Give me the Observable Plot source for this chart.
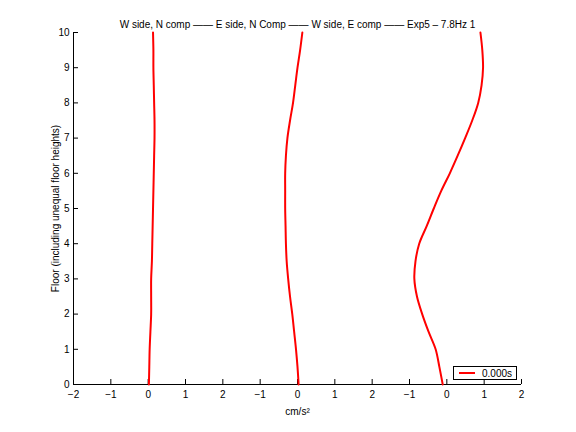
<!DOCTYPE html>
<html><head><meta charset="utf-8">
<script src="https://cdn.jsdelivr.net/npm/d3@7"></script>
<script src="https://cdn.jsdelivr.net/npm/@observablehq/plot@0.6"></script>
<style>
body{margin:0;background:#fff;}
#wrap{position:relative;width:576px;height:432px;font-family:"Liberation Sans",Arial,sans-serif;}
#legend{position:absolute;left:453px;top:366px;width:62px;height:12px;border:1px solid #000;background:#fff;font-size:10px;display:flex;align-items:center;}
#legend .sw{display:inline-block;width:16px;height:2px;background:#ff0000;margin-left:5px;margin-right:7px;}
</style></head><body><div id="wrap"></div>
<script>
const titleText = "W side, N comp —— E side, N Comp —— W side, E comp —— Exp5 – 7.8Hz 1";
const xLabel = "cm/s²";
const yLabel = "Floor (including unequal floor heights)";
const legendLabel = "0.000s";

const floors = [0,0.5,1,1.5,2,2.5,3,3.5,4,4.5,5,5.5,6,6.5,7,7.5,8,8.5,9,9.5,10];
const seriesNames = ["W side, N comp","E side, N Comp","W side, E comp"];
const wSideN = [0.02,0.03,0.04,0.06,0.08,0.08,0.08,0.10,0.11,0.12,0.13,0.14,0.15,0.16,0.17,0.17,0.16,0.15,0.14,0.14,0.13];
const eSideN = [0.03,0.00,-0.04,-0.09,-0.14,-0.20,-0.25,-0.29,-0.31,-0.32,-0.33,-0.33,-0.33,-0.31,-0.27,-0.20,-0.12,-0.06,0.00,0.07,0.13];
const wSideE = [-0.11,-0.20,-0.30,-0.49,-0.66,-0.80,-0.87,-0.84,-0.74,-0.54,-0.35,-0.15,0.08,0.29,0.49,0.68,0.84,0.93,0.97,0.95,0.90];
const seriesValues = [wSideN, eSideN, wSideE];
const seriesOffsets = [0,4,8];

const xTickValues = [-2,-1,0,1,2,3,4,5,6,7,8,9,10];
const xTickLabels = ["−2","−1","0","1","2","−1","0","1","2","−1","0","1","2"];
const yTicks = [0,1,2,3,4,5,6,7,8,9,10];

const data = [];
seriesNames.forEach((name,i)=>{
  floors.forEach((f,j)=>data.push({series:name, floor:f, value:seriesValues[i][j], offset:seriesOffsets[i]}));
});

const font = "'Liberation Sans', Arial, sans-serif";
const chart = Plot.plot({
  width:576, height:432, marginLeft:73, marginRight:55, marginTop:32, marginBottom:48,
  style:{fontFamily:font, fontSize:"10px", background:"white", color:"black", overflow:"visible"},
  x:{domain:[-2,10]}, y:{domain:[0,10]},
  marks:[
    Plot.axisX({ticks:xTickValues, tickFormat:d=>xTickLabels[xTickValues.indexOf(d)], tickSize:-5, tickPadding:11, label:xLabel, labelAnchor:"center", labelArrow:"none", labelOffset:30}),
    Plot.axisY({ticks:yTicks, tickSize:-5, tickPadding:9, label:yLabel, labelAnchor:"center", labelArrow:"none", labelOffset:22}),
    Plot.ruleX([-2],{stroke:"black"}),
    Plot.ruleY([0],{stroke:"black"}),
    Plot.line(data,{x:d=>d.value+d.offset, y:"floor", z:"series", stroke:"#ff0000", strokeWidth:2, curve:"catmull-rom"}),
    Plot.text([titleText],{frameAnchor:"top", lineAnchor:"bottom", dy:-5, fontSize:10, fill:"black"})
  ]
});
const wrap = document.getElementById("wrap");
wrap.appendChild(chart);
const lg = document.createElement("div");
lg.id = "legend";
lg.innerHTML = '<span class="sw"></span><span></span>';
lg.lastChild.textContent = legendLabel;
wrap.appendChild(lg);
</script></body></html>
